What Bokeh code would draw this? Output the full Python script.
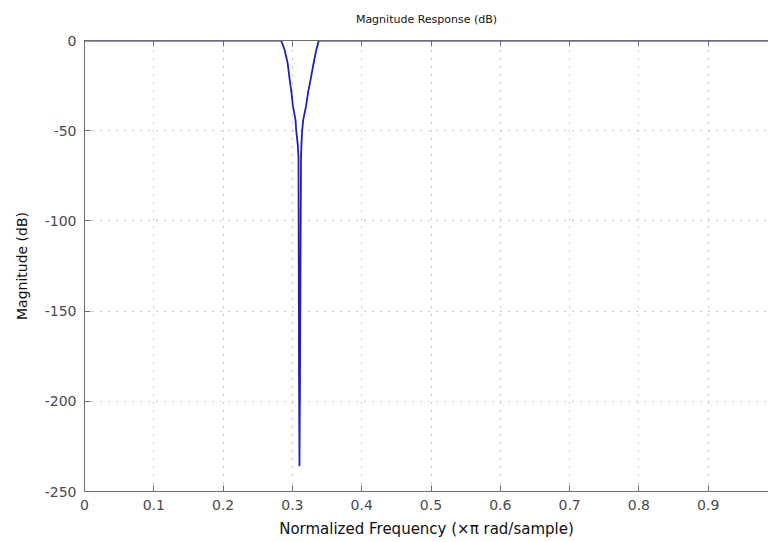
from bokeh.plotting import figure
from bokeh.models import LinearAxis, FixedTicker, Range1d, CustomLabelingPolicy
from bokeh.embed import file_html
from bokeh.resources import INLINE

# Data (normalized frequency, magnitude in dB)
freq = [0.0, 0.2838, 0.2886, 0.2929, 0.2962, 0.2987, 0.3006, 0.3045, 0.3055,
        0.3078, 0.3088, 0.3095, 0.3102, 0.3110, 0.3124, 0.3131, 0.3141, 0.3156,
        0.3199, 0.3225, 0.3261, 0.3304, 0.3340, 0.3381, 1.0]
mag_db = [0.0, 0.0, -5.0, -12.0, -22.0, -29.0, -36.0, -44.0, -50.0,
          -58.0, -65.0, -184.0, -236.0, -184.0, -65.0, -57.0, -50.0, -44.0,
          -36.0, -29.0, -22.0, -13.0, -6.0, 0.0, 0.0]

x_ticks = [0, 0.1, 0.2, 0.3, 0.4, 0.5, 0.6, 0.7, 0.8, 0.9, 1.0]
x_tick_labels = ["0", "0.1", "0.2", "0.3", "0.4", "0.5", "0.6", "0.7", "0.8", "0.9", "1"]
y_ticks = [-250, -200, -150, -100, -50, 0]
y_tick_labels = ["-250", "-200", "-150", "-100", "-50", "0"]

title_text = "Magnitude Response (dB)"
x_label = "Normalized Frequency (\u00d7\u03c0 rad/sample)"
y_label = "Magnitude (dB)"

FONT = "DejaVu Sans"
AXIS_COLOR = "#6e6e6e"
LABEL_COLOR = "#4a4a4a"

p = figure(width=768, height=542,
           x_range=Range1d(0, 0.987), y_range=Range1d(-250, 0),
           output_backend="svg", toolbar_location=None,
           min_border_left=84, min_border_right=0,
           min_border_top=40, min_border_bottom=51)
p.outline_line_color = None
p.background_fill_color = "white"
p.border_fill_color = "white"

bottom_axis = p.below[0]
left_axis = p.left[0]

top_axis = LinearAxis()
p.add_layout(top_axis, "above")

for ax in [bottom_axis, top_axis]:
    ax.ticker = FixedTicker(ticks=x_ticks)
    ax.major_label_overrides = {t: s for t, s in zip(x_ticks, x_tick_labels)}
left_axis.ticker = FixedTicker(ticks=y_ticks)
left_axis.major_label_overrides = {t: s for t, s in zip(y_ticks, y_tick_labels)}

for ax in [bottom_axis, left_axis, top_axis]:
    ax.axis_line_color = AXIS_COLOR
    ax.axis_line_width = 1
    ax.major_tick_line_color = AXIS_COLOR
    ax.major_tick_in = 6
    ax.major_tick_out = 0
    ax.minor_tick_line_color = None
    ax.major_label_text_font = FONT
    ax.major_label_text_font_size = "14px"
    ax.major_label_text_color = LABEL_COLOR
    ax.axis_label_text_font = FONT
    ax.axis_label_text_font_style = "normal"
    ax.axis_label_text_color = "#111111"

bottom_axis.major_label_standoff = 8
bottom_axis.axis_label = x_label
bottom_axis.axis_label_text_font_size = "15px"
bottom_axis.axis_label_standoff = 7

left_axis.major_label_standoff = 8
left_axis.axis_label = y_label
left_axis.axis_label_text_font_size = "14px"
left_axis.axis_label_standoff = 12

# top box edge: ticks only, no tick labels; carries the chart title
top_axis.major_label_policy = CustomLabelingPolicy(code="return []")
top_axis.major_label_standoff = 0
top_axis.axis_label = title_text
top_axis.axis_label_text_font_size = "11px"
top_axis.axis_label_standoff = 2

p.xgrid.grid_line_color = "#8c8c8c"
p.xgrid.grid_line_dash = "1 7"
p.ygrid.grid_line_color = "#8c8c8c"
p.ygrid.grid_line_dash = "1 7"

p.line(freq, mag_db, line_color="#2020b4", line_width=1.8)

open("out.html", "w").write(file_html(p, INLINE))
